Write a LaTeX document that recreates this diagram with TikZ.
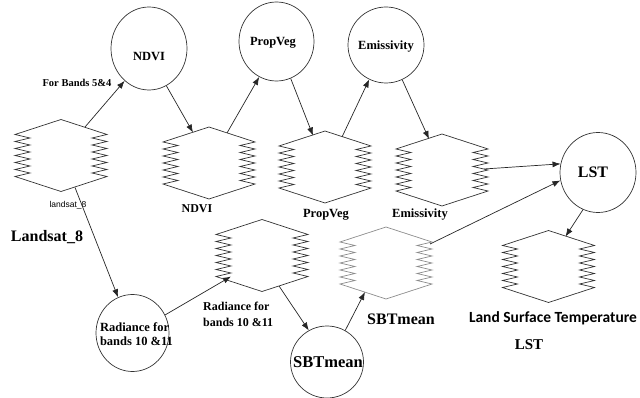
\documentclass[tikz,border=0pt]{standalone}
\usepackage{fontspec}
\setmainfont{Liberation Serif}
\newfontfamily\lsans{Liberation Sans}
\newfontfamily\carl{Carlito}
\usetikzlibrary{shapes.geometric,arrows.meta}
\newcommand\setfs[1]{\fontsize{#1}{#1}\selectfont}
\newcommand\zhex[3]{%
  \draw[hexline,#3] (#1,#2-36) -- (#1+46,#2-21)
    \foreach \i in {1,...,6} { -- (#1+31,#2-21+\i*7-3.5) -- (#1+46,#2-21+\i*7) }
    -- (#1,#2+36) -- (#1-46,#2+21)
    \foreach \i in {1,...,6} { -- (#1-31,#2+21-\i*7+3.5) -- (#1-46,#2+21-\i*7) }
    -- cycle;}
\begin{document}
\begin{tikzpicture}[x=1pt,y=-1pt,
  circ/.style={draw=black!80,line width=0.7pt,ellipse,inner sep=0pt},
  hexline/.style={draw=black!80,line width=0.7pt,line join=miter},
  arr/.style={draw=black!85,line width=0.7pt,-{Latex[length=8pt,width=6pt]}},
  lbl/.style={inner sep=0pt,text=black,font=\bfseries},
]
\useasboundingbox (0,0) rectangle (640,398);

% circles
\node[circ,minimum width=76pt,minimum height=83pt] (ndvi) at (149,48.5) {};
\node[circ,minimum width=75pt,minimum height=79pt] (propveg) at (276.5,41.5) {};
\node[circ,minimum width=76pt,minimum height=76pt] (emis) at (386,45) {};
\node[circ,minimum width=76pt,minimum height=80pt] (lst) at (598,172.5) {};
\node[circ,minimum width=73pt,minimum height=77pt] (rad) at (132.5,333) {};
\node[circ,minimum width=73pt,minimum height=72pt] (sbt) at (327,362) {};

% circle texts
\node[lbl,font=\bfseries\setfs{12.5}] (tndvi) at (149,57) {NDVI};
\node[lbl,font=\bfseries\setfs{12.5}] (tpropveg) at (273,43) {PropVeg};
\node[lbl,font=\bfseries\setfs{12.5}] (temis) at (386,46.5) {Emissivity};
\node[lbl,font=\bfseries\setfs{16}] (tlst) at (593,172.5) {LST};
\node[lbl,font=\bfseries\setfs{16.5}] (tsbt) at (328,362) {SBTmean};
\node[lbl,font=\bfseries\fontsize{12.5}{14}\selectfont,align=left] (trad) at (136.5,334) {Radiance for\\bands 10 \&11};

% hexagons
\coordinate (landsat) at (61,155.5);
\coordinate (ndvihex) at (209,163);
\coordinate (propveghex) at (325,167);
\coordinate (emishex) at (442,170);
\coordinate (radhex) at (262,255.5);
\coordinate (sbthex) at (386,263);
\coordinate (lsthex) at (548.5,266.5);
\zhex{61}{155.5}{}
\zhex{209}{163}{}
\zhex{325}{167}{}
\zhex{442}{170}{}
\zhex{262}{255.5}{}
\zhex{386}{263}{draw=black!45}
\zhex{548.5}{266.5}{}

% labels
\node[lbl,font=\bfseries\setfs{10.5}] (lbands) at (77,83) {For Bands 5\&4};
\node[lbl,font=\lsans\setfs{8.5}] (lsmall) at (68,205) {landsat\_8};
\node[lbl,font=\bfseries\setfs{16}] (llandsat) at (47,237) {Landsat\_8};
\node[lbl,font=\bfseries\setfs{12}] (lndvi) at (197,209) {NDVI};
\node[lbl,font=\bfseries\setfs{12.5}] (lpropveg) at (326,215) {PropVeg};
\node[lbl,font=\bfseries\setfs{12.5}] (lemis) at (420,215) {Emissivity};
\node[lbl,font=\bfseries\fontsize{12}{16}\selectfont,align=left,anchor=west] (lrad) at (203,314) {Radiance for\\bands 10 \&11};
\node[lbl,font=\bfseries\setfs{16}] (lsbt) at (401,319) {SBTmean};
\node[lbl,font=\carl\bfseries\setfs{15.5}] (lland) at (553,318) {Land Surface Temperature};
\node[lbl,font=\bfseries\setfs{15}] (llst) at (529,345) {LST};

% connectors
\draw[arr] ([shift={(24,-28.5)}]landsat) -- (ndvi.233);
\draw[arr] (ndvi.295) -- ([shift={(-16,-30.5)}]ndvihex);
\draw[arr] ([shift={(18,-30)}]ndvihex) -- (propveg.244);
\draw[arr] (propveg.291) -- ([shift={(-12,-31.5)}]propveghex);
\draw[arr] ([shift={(17,-30)}]propveghex) -- (emis.244);
\draw[arr] (emis.295) -- ([shift={(-13,-31)}]emishex);
\draw[arr] ([shift={(42,-1)}]emishex) -- (lst.167);
\draw[arr] ([shift={(44,-19)}]sbthex) -- (lst.192);
\draw[arr] (lst.248) -- ([shift={(17,-30)}]lsthex);
\draw[arr] ([shift={(14,32)}]landsat) -- (rad.112);
\draw[arr] (rad.29) -- ([shift={(-31,21)}]radhex);
\draw[arr] ([shift={(17,30.5)}]radhex) -- (sbt.120);
\draw[arr] (sbt.60) -- ([shift={(-21,29)}]sbthex);
\end{tikzpicture}
\end{document}
